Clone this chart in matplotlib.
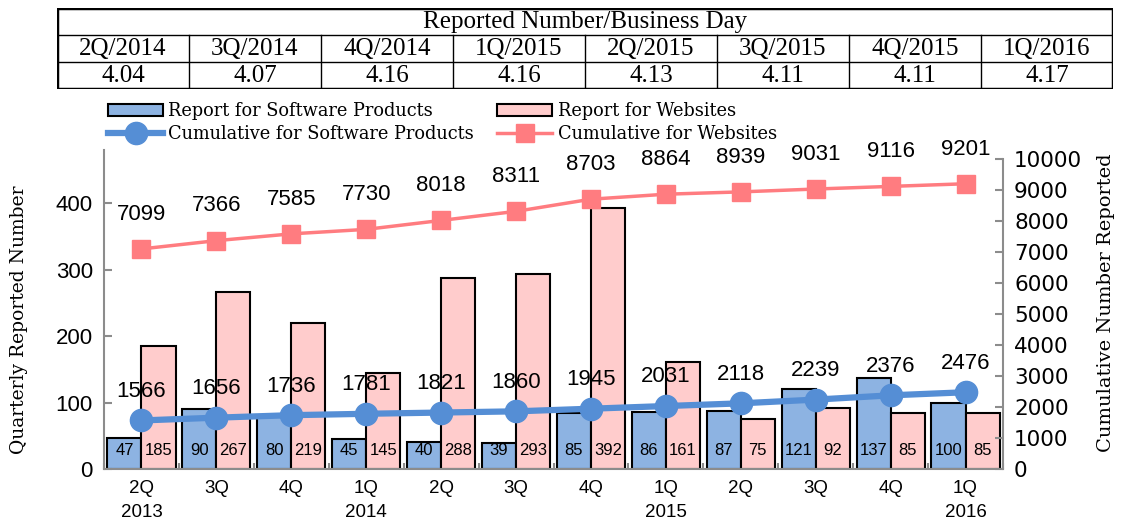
import matplotlib.pyplot as plt
import numpy as np

# data
quarters = ['2Q', '3Q', '4Q', '1Q', '2Q', '3Q', '4Q', '1Q', '2Q', '3Q', '4Q', '1Q']
years = ['2013', '', '', '2014', '', '', '', '2015', '', '', '', '2016']
software = [47, 90, 80, 45, 40, 39, 85, 86, 87, 121, 137, 100]
websites = [185, 267, 219, 145, 288, 293, 392, 161, 75, 92, 85, 85]
cum_software = [1566, 1656, 1736, 1781, 1821, 1860, 1945, 2031, 2118, 2239, 2376, 2476]
cum_websites = [7099, 7366, 7585, 7730, 8018, 8311, 8703, 8864, 8939, 9031, 9116, 9201]

table_title = 'Reported Number/Business Day'
table_quarters = ['2Q/2014', '3Q/2014', '4Q/2014', '1Q/2015', '2Q/2015', '3Q/2015', '4Q/2015', '1Q/2016']
table_values = ['4.04', '4.07', '4.16', '4.16', '4.13', '4.11', '4.11', '4.17']

# cores
azul_barra = '#8DB3E2'
rosa_barra = '#FFCCCC'
azul_linha = '#558ED5'
rosa_linha = '#FF7C80'
cinza = '#8C8C8C'

W, H = 1121, 527

def px(x0, y0, x1, y1):
    # caixa em pixels -> coordenadas da figura
    return [x0 / W, 1 - y1 / H, (x1 - x0) / W, (y1 - y0) / H]

fig = plt.figure(figsize=(W / 100, H / 100), dpi=100)

# ---- tabela no topo
tab = fig.add_axes(px(57, 8, 1113, 89))
tab.set_xlim(0, 8)
tab.set_ylim(3, 0)
tab.axis('off')
n = len(table_quarters)
tab.plot([0, n], [0, 0], color='black', lw=2.5, solid_capstyle='projecting')
tab.plot([0, n], [3, 3], color='black', lw=2.5, solid_capstyle='projecting')
tab.plot([0, 0], [0, 3], color='black', lw=2.5)
tab.plot([n, n], [0, 3], color='black', lw=2.5)
tab.plot([0, n], [1, 1], color='black', lw=1)
tab.plot([0, n], [2, 2], color='black', lw=1)
for i in range(1, n):
    tab.plot([i, i], [1, 3], color='black', lw=1)
fonte_tab = dict(family='Liberation Serif', fontsize=18, ha='center', va='center')
tab.text(n / 2, 0.52, table_title, **fonte_tab)
for i, (q, v) in enumerate(zip(table_quarters, table_values)):
    tab.text(i + 0.5, 1.52, q, **fonte_tab)
    tab.text(i + 0.5, 2.52, v, **fonte_tab)

# ---- grafico principal
ax = fig.add_axes(px(104, 150, 1003, 469))
ax2 = ax.twinx()

x = np.arange(len(quarters))
largura = 0.455
b1 = ax.bar(x - largura / 2, software, largura, color=azul_barra, edgecolor='black',
            linewidth=1.5, label='Report for Software Products')
b2 = ax.bar(x + largura / 2, websites, largura, color=rosa_barra, edgecolor='black',
            linewidth=1.5, label='Report for Websites')

for i in range(len(x)):
    ax.text(x[i] - largura / 2, 28, str(software[i]), ha='center', va='center',
            family='Liberation Sans', fontsize=12)
    ax.text(x[i] + largura / 2, 28, str(websites[i]), ha='center', va='center',
            family='Liberation Sans', fontsize=12)

l1, = ax2.plot(x, cum_software, color=azul_linha, lw=4.5, marker='o', ms=16,
               label='Cumulative for Software Products')
l2, = ax2.plot(x, cum_websites, color=rosa_linha, lw=2.5, marker='s', ms=13,
               label='Cumulative for Websites')

for i in range(len(x)):
    ax2.annotate(str(cum_software[i]), (x[i], cum_software[i]), xytext=(0, 21),
                 textcoords='offset points', ha='center', va='center',
                 family='Liberation Sans', fontsize=16)
    ax2.annotate(str(cum_websites[i]), (x[i], cum_websites[i]), xytext=(0, 25),
                 textcoords='offset points', ha='center', va='center',
                 family='Liberation Sans', fontsize=16)

ax.set_xlim(-0.5, len(x) - 0.5)
ax.set_ylim(0, 480)
ax2.set_ylim(0, 10290)
ax.set_yticks([0, 100, 200, 300, 400])
ax2.set_yticks(np.arange(0, 10001, 1000))

rotulos = [q + ('\n' + a if a else '') for q, a in zip(quarters, years)]
ax.set_xticks(x)
ax.set_xticklabels(rotulos, family='Liberation Sans', fontsize=13.5, linespacing=1.5)
ax.set_xticks(np.arange(-0.5, len(x)), minor=True)

for a in (ax, ax2):
    for s in a.spines.values():
        s.set_color(cinza)
        s.set_linewidth(1.5)
    a.spines['top'].set_visible(False)
ax2.spines['right'].set_bounds(0, 10000)
ax.spines['right'].set_visible(False)
ax2.spines['left'].set_visible(False)
ax2.spines['bottom'].set_visible(False)

ax.tick_params(axis='x', which='major', length=0, pad=8)
ax.tick_params(axis='x', which='minor', length=4, direction='in', color=cinza, width=1.5)
ax.tick_params(axis='y', direction='in', length=6, color=cinza, width=1.5, pad=8)
ax2.tick_params(axis='y', direction='in', length=6, color=cinza, width=1.5, pad=8)
for t in ax.get_yticklabels():
    t.set_family('Liberation Sans')
    t.set_fontsize(16)
for t in ax2.get_yticklabels():
    t.set_family('DejaVu Sans')
    t.set_fontsize(15.5)

ax.set_ylabel('Quarterly Reported Number', family='DejaVu Serif', fontsize=13.5)
ax.yaxis.set_label_coords(-0.085, 0.467)
ax2.set_ylabel('Cumulative Number Reported', family='DejaVu Serif', fontsize=14)
ax2.yaxis.set_label_coords(1.105, 0.52)

fig.legend([b1, l1, b2, l2],
           [b1.get_label(), l1.get_label(), b2.get_label(), l2.get_label()],
           ncol=2, loc='upper left', bbox_to_anchor=(108 / W, 1 - 102 / H),
           frameon=False, borderpad=0, borderaxespad=0,
           prop={'family': 'DejaVu Serif', 'size': 12.8},
           handlelength=3.1, handletextpad=0.3, columnspacing=1.3,
           labelspacing=0.3)

plt.savefig('out.png', dpi=100)
